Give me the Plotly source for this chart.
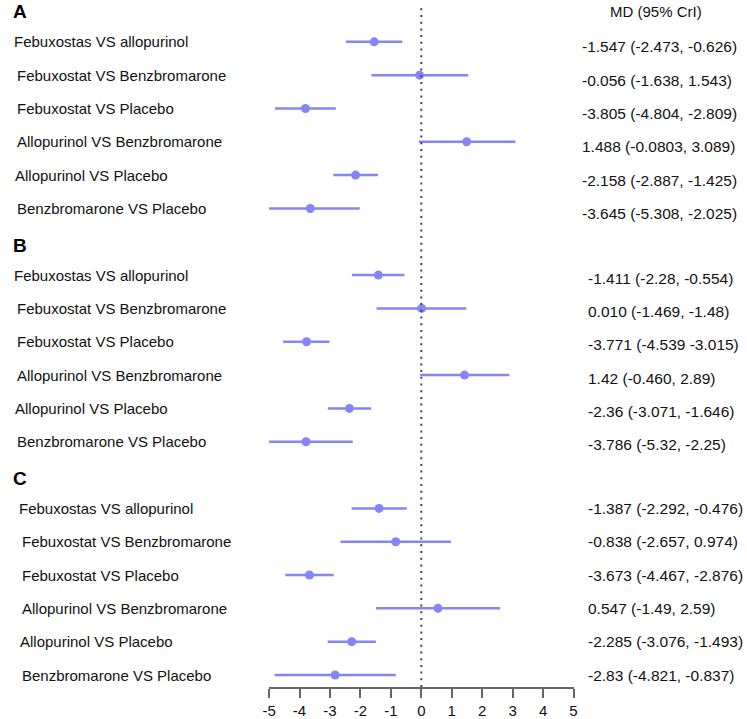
import plotly.graph_objects as go

# ── data ────────────────────────────────────────────────────────────────────
PANELS = ["A", "B", "C"]

COMPARISONS = [
    "Febuxostas VS allopurinol",
    "Febuxostat VS Benzbromarone",
    "Febuxostat VS Placebo",
    "Allopurinol VS Benzbromarone",
    "Allopurinol VS Placebo",
    "Benzbromarone VS Placebo",
]

# point estimate / lower / upper as drawn, one list per panel
EST_A = [-1.547, -0.056, -3.805, 1.488, -2.158, -3.645]
LOW_A = [-2.473, -1.638, -4.804, -0.0803, -2.887, -5.308]
UPP_A = [-0.626, 1.543, -2.809, 3.089, -1.425, -2.025]

EST_B = [-1.411, 0.010, -3.771, 1.42, -2.36, -3.786]
LOW_B = [-2.28, -1.469, -4.539, -0.04, -3.071, -5.32]
UPP_B = [-0.554, 1.48, -3.015, 2.89, -1.646, -2.25]

EST_C = [-1.387, -0.838, -3.673, 0.547, -2.285, -2.83]
LOW_C = [-2.292, -2.657, -4.467, -1.49, -3.076, -4.821]
UPP_C = [-0.476, 0.974, -2.876, 2.59, -1.493, -0.837]

# printed text column, as written in the figure
MD_A = ["-1.547 (-2.473, -0.626)", "-0.056 (-1.638, 1.543)", "-3.805 (-4.804, -2.809)",
        "1.488 (-0.0803, 3.089)", "-2.158 (-2.887, -1.425)", "-3.645 (-5.308, -2.025)"]
MD_B = ["-1.411 (-2.28, -0.554)", "0.010 (-1.469, -1.48)", "-3.771 (-4.539 -3.015)",
        "1.42 (-0.460, 2.89)", "-2.36 (-3.071, -1.646)", "-3.786 (-5.32, -2.25)"]
MD_C = ["-1.387 (-2.292, -0.476)", "-0.838 (-2.657, 0.974)", "-3.673 (-4.467, -2.876)",
        "0.547 (-1.49, 2.59)", "-2.285 (-3.076, -1.493)", "-2.83 (-4.821, -0.837)"]

TICK_VALS = [-5, -4, -3, -2, -1, 0, 1, 2, 3, 4, 5]
TICK_LABELS = ["-5", "-4", "-3", "-2", "-1", "0", "1", "2", "3", "4", "5"]

# ── styling ─────────────────────────────────────────────────────────────────
W, H = 747, 719
COLOR = "#8585f5"
FONT = "Liberation Sans, Arial, sans-serif"
ROWS_PER_PANEL = 7          # 6 comparisons + one blank slot for the panel letter

ests = [EST_A, EST_B, EST_C]
lows = [LOW_A, LOW_B, LOW_C]
upps = [UPP_A, UPP_B, UPP_C]
mds  = [MD_A, MD_B, MD_C]

label_x = [5, 5, 10]        # px, left labels per panel
label_nudge = [0, 3, 3, 3, 1, 3]
md_x = [582, 588, 588]      # px, text column per panel
md_shift = [-5, -3, 0]      # px, text column vertical nudge per panel

fig = go.Figure()
annotations = []

for p, letter in enumerate(PANELS):
    ys = [p * ROWS_PER_PANEL + i for i in range(len(COMPARISONS))]
    est, lo, hi = ests[p], lows[p], upps[p]
    fig.add_trace(go.Scatter(
        x=est, y=ys, mode="markers",
        marker=dict(size=9, color=COLOR),
        error_x=dict(type="data", symmetric=False,
                     array=[h - e for h, e in zip(hi, est)],
                     arrayminus=[e - l for e, l in zip(est, lo)],
                     width=0, thickness=2.5, color=COLOR),
        showlegend=False, hoverinfo="skip",
    ))

    annotations.append(dict(
        text=f"<b>{letter}</b>", x=4 / W, y=p * ROWS_PER_PANEL - 0.9,
        xref="paper", yref="y", xanchor="left", yanchor="middle",
        showarrow=False, font=dict(family=FONT, size=19, color="#000"),
    ))
    for i, name in enumerate(COMPARISONS):
        annotations.append(dict(
            text=name, x=(label_x[p] + label_nudge[i]) / W, y=ys[i],
            xref="paper", yref="y", xanchor="left", yanchor="middle",
            showarrow=False, font=dict(family=FONT, size=15, color="#111"),
        ))
        annotations.append(dict(
            text=mds[p][i], x=md_x[p] / W, y=ys[i], yshift=md_shift[p],
            xref="paper", yref="y", xanchor="left", yanchor="middle",
            showarrow=False, font=dict(family=FONT, size=15.5, color="#111"),
        ))

annotations.append(dict(
    text="MD (95% CrI)", x=659 / W, y=-0.9,
    xref="paper", yref="y", xanchor="center", yanchor="middle",
    showarrow=False, font=dict(family=FONT, size=15, color="#111"),
))

# dotted reference line at zero
fig.add_shape(type="line", x0=0, x1=0, xref="x", y0=0, y1=1, yref="paper",
              line=dict(color="#444", width=2, dash="2px,4.7px"))

fig.update_layout(
    width=W, height=H,
    margin=dict(l=0, r=0, t=4, b=29),
    plot_bgcolor="white", paper_bgcolor="white",
    annotations=annotations,
    xaxis=dict(
        domain=[266 / W, 575 / W], range=[-5, 5],
        tickvals=TICK_VALS, ticktext=TICK_LABELS,
        showline=True, linecolor="#666", linewidth=1.5,
        ticks="outside", ticklen=9, tickwidth=1.5, tickcolor="#666",
        showgrid=False, zeroline=False,
        tickfont=dict(family=FONT, size=15, color="#111"),
    ),
    yaxis=dict(range=[19.36, -1.135], visible=False),
)

# the page's default 8px body margin would push the figure off the window
fig.write_html("out.html", config={"displayModeBar": False},
               post_script="document.body.style.margin='0';")
